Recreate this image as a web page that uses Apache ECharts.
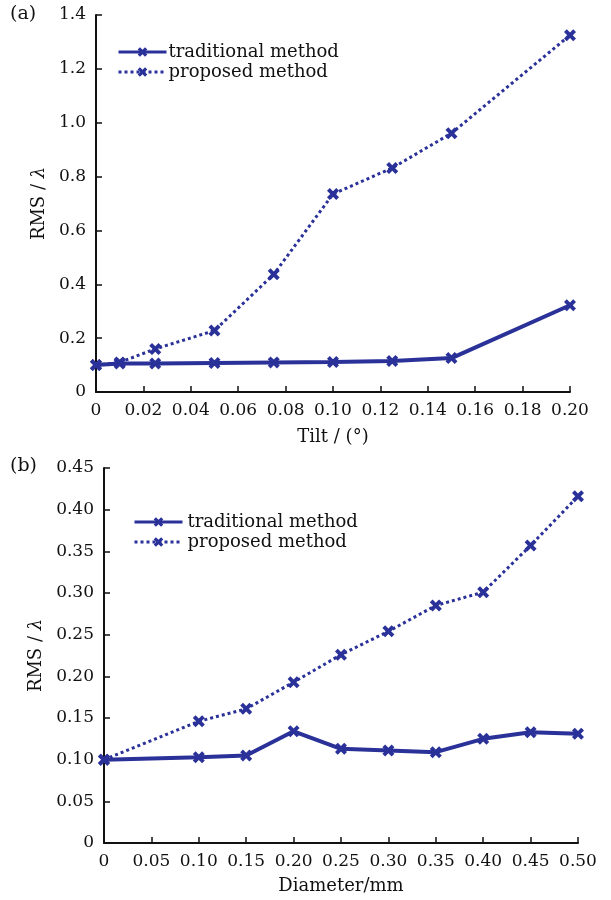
<!DOCTYPE html>
<html>
<head>
<meta charset="utf-8">
<script src="https://cdn.jsdelivr.net/npm/echarts@6/dist/echarts.min.js"></script>
<style>
html,body{margin:0;padding:0;background:#fff;}
#main{width:611px;height:900px;}
</style>
</head>
<body>
<div id="main"></div>
<script>
// ---- data (a): tilt ----
var tiltX = [0, 0.01, 0.025, 0.05, 0.075, 0.10, 0.125, 0.15, 0.20];
var tiltTraditional = [0.100, 0.106, 0.106, 0.108, 0.110, 0.111, 0.115, 0.126, 0.322];
var tiltProposed = [0.100, 0.110, 0.160, 0.228, 0.437, 0.735, 0.832, 0.961, 1.325];
// ---- data (b): diameter ----
var diamX = [0, 0.10, 0.15, 0.20, 0.25, 0.30, 0.35, 0.40, 0.45, 0.50];
var diamTraditional = [0.100, 0.103, 0.105, 0.134, 0.113, 0.111, 0.109, 0.125, 0.133, 0.131];
var diamProposed = [0.100, 0.146, 0.161, 0.193, 0.226, 0.254, 0.285, 0.301, 0.357, 0.416];
var seriesNames = ['traditional method', 'proposed method'];
var panelLabels = ['(a)', '(b)'];
var xNames = ['Tilt / (°)', 'Diameter/mm'];

function pairs(xs, ys) { return xs.map(function (x, i) { return [x, ys[i]]; }); }

var COLOR = '#2a3198';
var FONT = 'DejaVu Serif';
var XSYM = 'path://M0,2.3 L2.3,0 L5,2.7 L7.7,0 L10,2.3 L7.3,5 L10,7.7 L7.7,10 L5,7.3 L2.3,10 L0,7.7 L2.7,5 Z';

function mkSeries(name, data, xi, dotted) {
  return {
    name: name, type: 'line', xAxisIndex: xi, yAxisIndex: xi, data: data,
    symbol: XSYM, symbolSize: 12, showSymbol: true,
    itemStyle: { color: COLOR },
    lineStyle: { color: COLOR, width: dotted ? 3 : 4, type: dotted ? 'dotted' : 'solid' },
    animation: false, z: dotted ? 3 : 4
  };
}

var axisCommon = {
  axisLine: { show: true, lineStyle: { color: '#111', width: 2 } },
  axisTick: { show: true, inside: true, length: 6, lineStyle: { color: '#111', width: 1.5 } },
  splitLine: { show: false },
  axisLabel: { color: '#111', fontFamily: FONT, fontSize: 17, margin: 10 },
  nameTextStyle: { color: '#111', fontFamily: FONT, fontSize: 18 }
};

function merge(a, b) { return Object.assign({}, a, b); }
function fmt(d) { return function (v) { return v === 0 ? '0' : v.toFixed(d); }; }

var chart = echarts.init(document.getElementById('main'), null, { renderer: 'canvas' });
chart.setOption({
  backgroundColor: '#fff',
  animation: false,
  grid: [
    { left: 96, top: 15, width: 474, height: 377 },
    { left: 104, top: 468, width: 474, height: 375 }
  ],
  graphic: [
    { type: 'text', left: 10, top: 5, style: { text: panelLabels[0], font: '19px "DejaVu Serif"', fill: '#111' } },
    { type: 'text', left: 10, top: 457, style: { text: panelLabels[1], font: '19px "DejaVu Serif"', fill: '#111' } }
  ],
  legend: [
    { data: seriesNames, orient: 'vertical', left: 112, top: 38, itemWidth: 48, itemHeight: 12, itemGap: 2,
      lineStyle: { width: 3 },
      textStyle: { fontFamily: FONT, fontSize: 18, color: '#111', padding: [0, 0, 0, -3] }, inactiveColor: COLOR },
    { data: seriesNames, orient: 'vertical', left: 128, top: 508, itemWidth: 48, itemHeight: 12, itemGap: 2,
      lineStyle: { width: 3 },
      textStyle: { fontFamily: FONT, fontSize: 18, color: '#111', padding: [0, 0, 0, 0] }, inactiveColor: COLOR }
  ],
  xAxis: [
    merge(axisCommon, { type: 'value', gridIndex: 0, min: 0, max: 0.2, interval: 0.02,
      name: xNames[0], nameLocation: 'middle', nameGap: 36,
      axisLabel: merge(axisCommon.axisLabel, { formatter: fmt(2) }) }),
    merge(axisCommon, { type: 'value', gridIndex: 1, min: 0, max: 0.5, interval: 0.05,
      name: xNames[1], nameLocation: 'middle', nameGap: 34,
      axisLabel: merge(axisCommon.axisLabel, { formatter: fmt(2) }) })
  ],
  yAxis: [
    merge(axisCommon, { type: 'value', gridIndex: 0, min: 0, max: 1.4, interval: 0.2,
      name: 'RMS / {i|λ}', nameLocation: 'middle', nameGap: 38,
      nameTextStyle: merge(axisCommon.nameTextStyle, { rich: { i: { fontFamily: FONT, fontSize: 18, fontStyle: 'italic', color: '#111' } } }),
      axisLabel: merge(axisCommon.axisLabel, { formatter: fmt(1) }) }),
    merge(axisCommon, { type: 'value', gridIndex: 1, min: 0, max: 0.45, interval: 0.05,
      name: 'RMS / {i|λ}', nameLocation: 'middle', nameGap: 44,
      nameTextStyle: merge(axisCommon.nameTextStyle, { rich: { i: { fontFamily: FONT, fontSize: 18, fontStyle: 'italic', color: '#111' } } }),
      axisLabel: merge(axisCommon.axisLabel, { formatter: fmt(2) }) })
  ],
  series: [
    mkSeries(seriesNames[0], pairs(tiltX, tiltTraditional), 0, false),
    mkSeries(seriesNames[1], pairs(tiltX, tiltProposed), 0, true),
    mkSeries(seriesNames[0], pairs(diamX, diamTraditional), 1, false),
    mkSeries(seriesNames[1], pairs(diamX, diamProposed), 1, true)
  ]
});
</script>
</body>
</html>
